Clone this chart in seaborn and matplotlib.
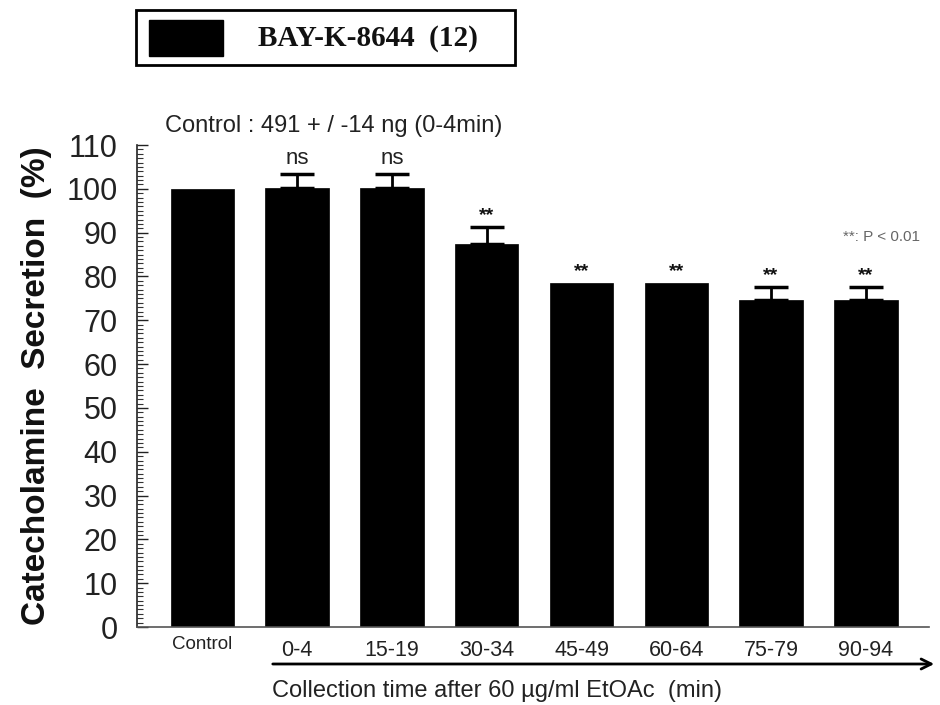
import matplotlib
matplotlib.use("Agg")
import matplotlib.pyplot as plt
import seaborn as sns
import pandas as pd
from matplotlib.ticker import MultipleLocator
from matplotlib.patches import Rectangle

categories = ["Control", "0-4", "15-19", "30-34", "45-49", "60-64", "75-79", "90-94"]
values = [100, 100.3, 100.3, 87.4, 78.6, 78.6, 74.7, 74.7]
errors = [0, 3.2, 3.2, 3.9, 0, 0, 3.0, 3.0]
marks = ["", "ns", "ns", "**", "**", "**", "**", "**"]

sns.set_theme(style="ticks")
plt.rcParams['font.family'] = ['Liberation Sans', 'DejaVu Sans']

fig = plt.figure(figsize=(9.4, 7.05), dpi=100)
ax = fig.add_axes([0.1457, 0.1106, 0.843, 0.6837])

df = pd.DataFrame({"cat": categories, "val": values})
sns.barplot(data=df, x="cat", y="val", color="black", width=0.67,
            saturation=1, edgecolor="black", linewidth=0.5, ax=ax)
xs = list(range(len(categories)))
ex = [x for x, e in zip(xs, errors) if e > 0]
ev = [v for v, e in zip(values, errors) if e > 0]
ee = [e for e in errors if e > 0]
ax.errorbar(ex, ev, yerr=[[0] * len(ee), ee], fmt="none", ecolor="black",
            elinewidth=2, capsize=12, capthick=2.5)

for x, v, e, m in zip(xs, values, errors, marks):
    if not m:
        continue
    if m == "ns":
        ax.text(x, v + e + 1.0, m, ha="center", va="bottom", fontsize=16, color="#222")
    else:
        ax.text(x, v + e + 0.6, m, ha="center", va="bottom", fontsize=14,
                fontweight="bold", color="#111")

ax.set_xlim(-0.69, 7.67)
ax.set_ylim(0, 110)
ax.yaxis.set_major_locator(MultipleLocator(10))
ax.yaxis.set_minor_locator(MultipleLocator(1))
ax.tick_params(axis="y", which="major", direction="in", length=8, width=1,
               labelsize=22, pad=14, colors="#222")
ax.tick_params(axis="y", which="minor", direction="in", length=4, width=0.8, color="#333")
ax.tick_params(axis="x", length=0, pad=9, labelsize=15.5, colors="#222")
for lbl in ax.get_xticklabels():
    if lbl.get_text() == "Control":
        lbl.set_fontsize(13.5)
        lbl.set_y(0.008)
ax.set_xlabel("")
ax.set_ylabel("Catecholamine  Secretion  (%)", fontsize=24, fontweight="bold",
              labelpad=10, color="#111")
for s in ["top", "right"]:
    ax.spines[s].set_visible(False)
ax.spines["left"].set_color("#222")
ax.spines["bottom"].set_color("#555")
ax.spines["left"].set_linewidth(1.2)
ax.spines["bottom"].set_linewidth(1.2)

# annotations
fig.text(165 / 940, 1 - 126 / 705, "Control : 491 + / -14 ng (0-4min)", fontsize=17,
         va="center", ha="left", color="#222")
fig.text(843 / 940, 1 - 237 / 705, "**: P < 0.01", fontsize=11, va="center", ha="left",
         color="#666")

# arrow under the x axis
fig.add_artist(matplotlib.patches.FancyArrowPatch(
    (270 / 940, 1 - 664 / 705), (937 / 940, 1 - 664 / 705), transform=fig.transFigure,
    arrowstyle="->", mutation_scale=18, linewidth=2, color="black"))
fig.text(272 / 940, 1 - 691 / 705, "Collection time after 60 \u00b5g/ml EtOAc  (min)",
         fontsize=17, va="center", ha="left", color="#222")

# legend box
fig.add_artist(Rectangle((136 / 940, 1 - 65 / 705), 379 / 940, 55 / 705,
                         transform=fig.transFigure, facecolor="white",
                         edgecolor="black", linewidth=2))
fig.add_artist(Rectangle((149 / 940, 1 - 56 / 705), 74 / 940, 36 / 705,
                         transform=fig.transFigure, facecolor="black",
                         edgecolor="black", linewidth=1))
fig.text(258 / 940, 1 - 38 / 705, "BAY-K-8644  (12)", fontsize=21, fontweight="bold",
         family=["Liberation Serif", "DejaVu Serif"], va="center", ha="left", color="#111")

fig.savefig("out.png", dpi=100)
